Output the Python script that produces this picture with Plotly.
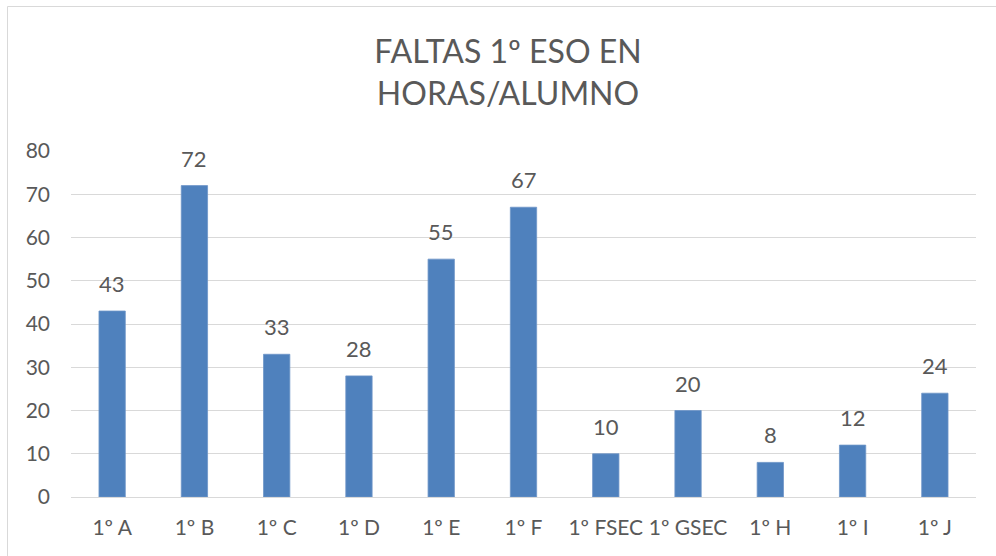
import plotly.graph_objects as go

categories = ["1º A", "1º B", "1º C", "1º D", "1º E", "1º F", "1º FSEC", "1º GSEC", "1º H", "1º I", "1º J"]
values = [43, 72, 33, 28, 55, 67, 10, 20, 8, 12, 24]
y_ticks = [0, 10, 20, 30, 40, 50, 60, 70, 80]

FONT = "Lato"
GRAY = "#595959"
BAR = "#4f81bd"

W, H = 996, 556
L, R, T, B = 71, 20, 151, 59

fig = go.Figure()
fig.add_trace(go.Bar(
    x=categories, y=values,
    marker=dict(color=BAR, line=dict(color="#6f96c8", width=0.8)),
    hoverinfo="x+y",
))

for c, v in zip(categories, values):
    fig.add_annotation(x=c, y=v, text=str(v), showarrow=False,
                       yanchor="bottom", yshift=12,
                       font=dict(family=FONT, size=22, color=GRAY))

pw = W - L - R
ph = H - T - B
fig.add_shape(type="rect", xref="paper", yref="paper",
              x0=(7.5 - L) / pw, x1=(1010 - L) / pw,
              y0=(H - B - 570) / ph, y1=(H - B - 6.5) / ph,
              line=dict(color="#d9d9d9", width=1), fillcolor="rgba(0,0,0,0)", layer="below")

fig.update_layout(
    width=W, height=H,
    margin=dict(l=L, r=R, t=T, b=B),
    paper_bgcolor="white", plot_bgcolor="white",
    bargap=0.68,
    showlegend=False,
    font=dict(family=FONT, size=22, color=GRAY),
    title=dict(text="FALTAS 1º ESO EN<br>HORAS/ALUMNO", x=508 / W, xanchor="center",
               xref="container", yref="container", y=1 - 63 / H, yanchor="top",
               font=dict(family=FONT, size=32, color=GRAY)),
    xaxis=dict(showgrid=False, showline=False, ticks="", ticklabelstandoff=16,
               tickfont=dict(family=FONT, size=21, color=GRAY)),
    yaxis=dict(range=[0, 80], tickvals=y_ticks, showgrid=True, gridcolor="#d9d9d9", gridwidth=1.3,
               zeroline=True, zerolinecolor="#d9d9d9", zerolinewidth=1.3,
               showline=False, ticks="", ticklabelstandoff=20,
               tickfont=dict(family=FONT, size=21, color=GRAY)),
)

fig.write_html("out.html", config={"displayModeBar": False},
               post_script="document.body.style.margin='0px';")
